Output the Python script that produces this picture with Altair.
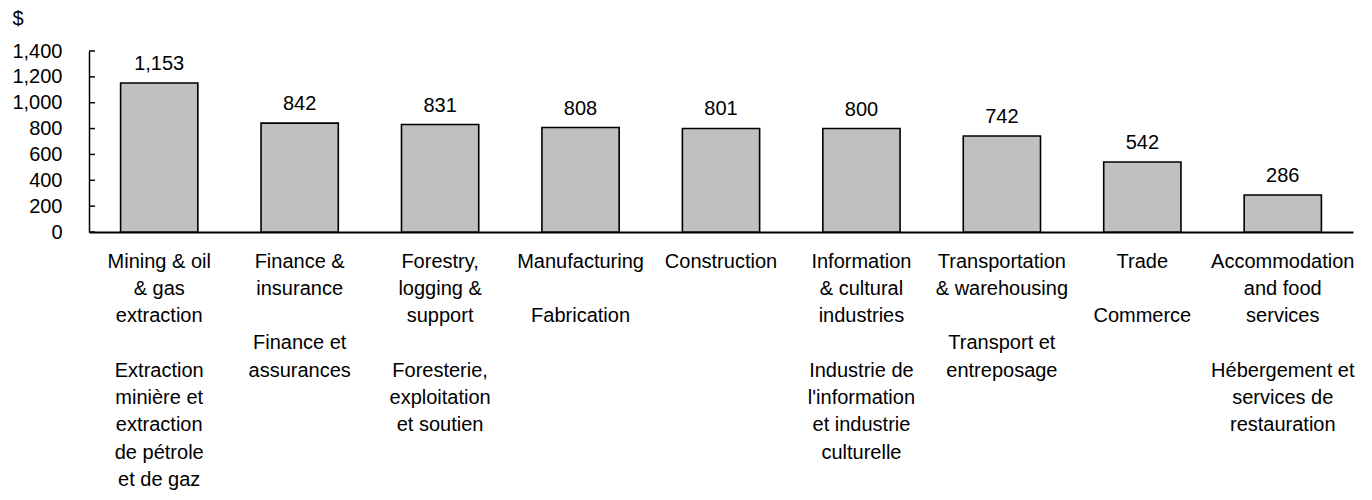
import altair as alt
import pandas as pd

B = "\u200b"
categories = [
    f"Mining & oil|& gas|extraction|{B}|Extraction|minière et|extraction|de pétrole|et de gaz",
    f"Finance &|insurance|{B}|Finance et|assurances",
    f"Forestry,|logging &|support|{B}|Foresterie,|exploitation|et soutien",
    f"Manufacturing|{B}|Fabrication",
    "Construction",
    f"Information|& cultural|industries|{B}|Industrie de|l'information|et industrie|culturelle",
    f"Transportation|& warehousing|{B}|Transport et|entreposage",
    f"Trade|{B}|Commerce",
    f"Accommodation|and food|services|{B}|Hébergement et|services de|restauration",
]
values = [1153, 842, 831, 808, 801, 800, 742, 542, 286]
y_ticks = [0, 200, 400, 600, 800, 1000, 1200, 1400]

df = pd.DataFrame({"cat": categories, "val": values})
ticks_df = pd.DataFrame({"t": y_ticks})

FONT = "Liberation Sans"
FS = 20

x_axis = alt.Axis(labelExpr="split(datum.label, '|')", labelAngle=0,
                  labelFont=FONT, labelFontSize=FS, labelColor="black",
                  labelLineHeight=27.3, labelBaseline="top", labelPadding=19,
                  ticks=False, domainColor="black", domainWidth=2,
                  labelLimit=400, labelOverlap=False)
y_axis = alt.Axis(values=y_ticks, format=",d", ticks=False, grid=False,
                  labelFont=FONT, labelFontSize=FS, labelColor="black",
                  labelOverlap=False, labelBound=False, labelFlush=False,
                  labelPadding=27, domainColor="black", domainWidth=1.5,
                  titleAngle=0, titleFont=FONT, titleFontSize=FS,
                  titleFontWeight="normal", titleColor="black",
                  titleAlign="left", titleBaseline="middle",
                  titleX=-77, titleY=-33)
y_scale = alt.Scale(domain=[0, 1400], nice=False)
x_scale = alt.Scale(paddingInner=0.45, paddingOuter=0.225)

bars = alt.Chart(df).mark_bar(color="#C0C0C0", stroke="black", strokeWidth=1.6).encode(
    x=alt.X("cat:N", sort=categories, title=None, scale=x_scale, axis=x_axis),
    y=alt.Y("val:Q", title="$", scale=y_scale, axis=y_axis))
labels = alt.Chart(df).mark_text(font=FONT, fontSize=FS, color="black",
                                 baseline="bottom", dy=-9).encode(
    x=alt.X("cat:N", sort=categories, title=None, scale=x_scale, axis=x_axis),
    y=alt.Y("val:Q", title="$", scale=y_scale, axis=y_axis),
    text=alt.Text("val:Q", format=",d"))
tickmarks = alt.Chart(ticks_df).mark_rule(color="black", strokeWidth=1.5).encode(
    y=alt.Y("t:Q", title="$", scale=y_scale, axis=y_axis),
    x=alt.value(0), x2=alt.value(6))

chart = alt.layer(bars, labels, tickmarks).properties(
    width=1264, height=181,
    padding={"left": 81, "top": 43, "right": 10, "bottom": 260},
    autosize=alt.AutoSizeParams(type="none"),
).configure_view(stroke=None)

chart.save("out.html", embed_options={"renderer": "svg", "actions": False})
